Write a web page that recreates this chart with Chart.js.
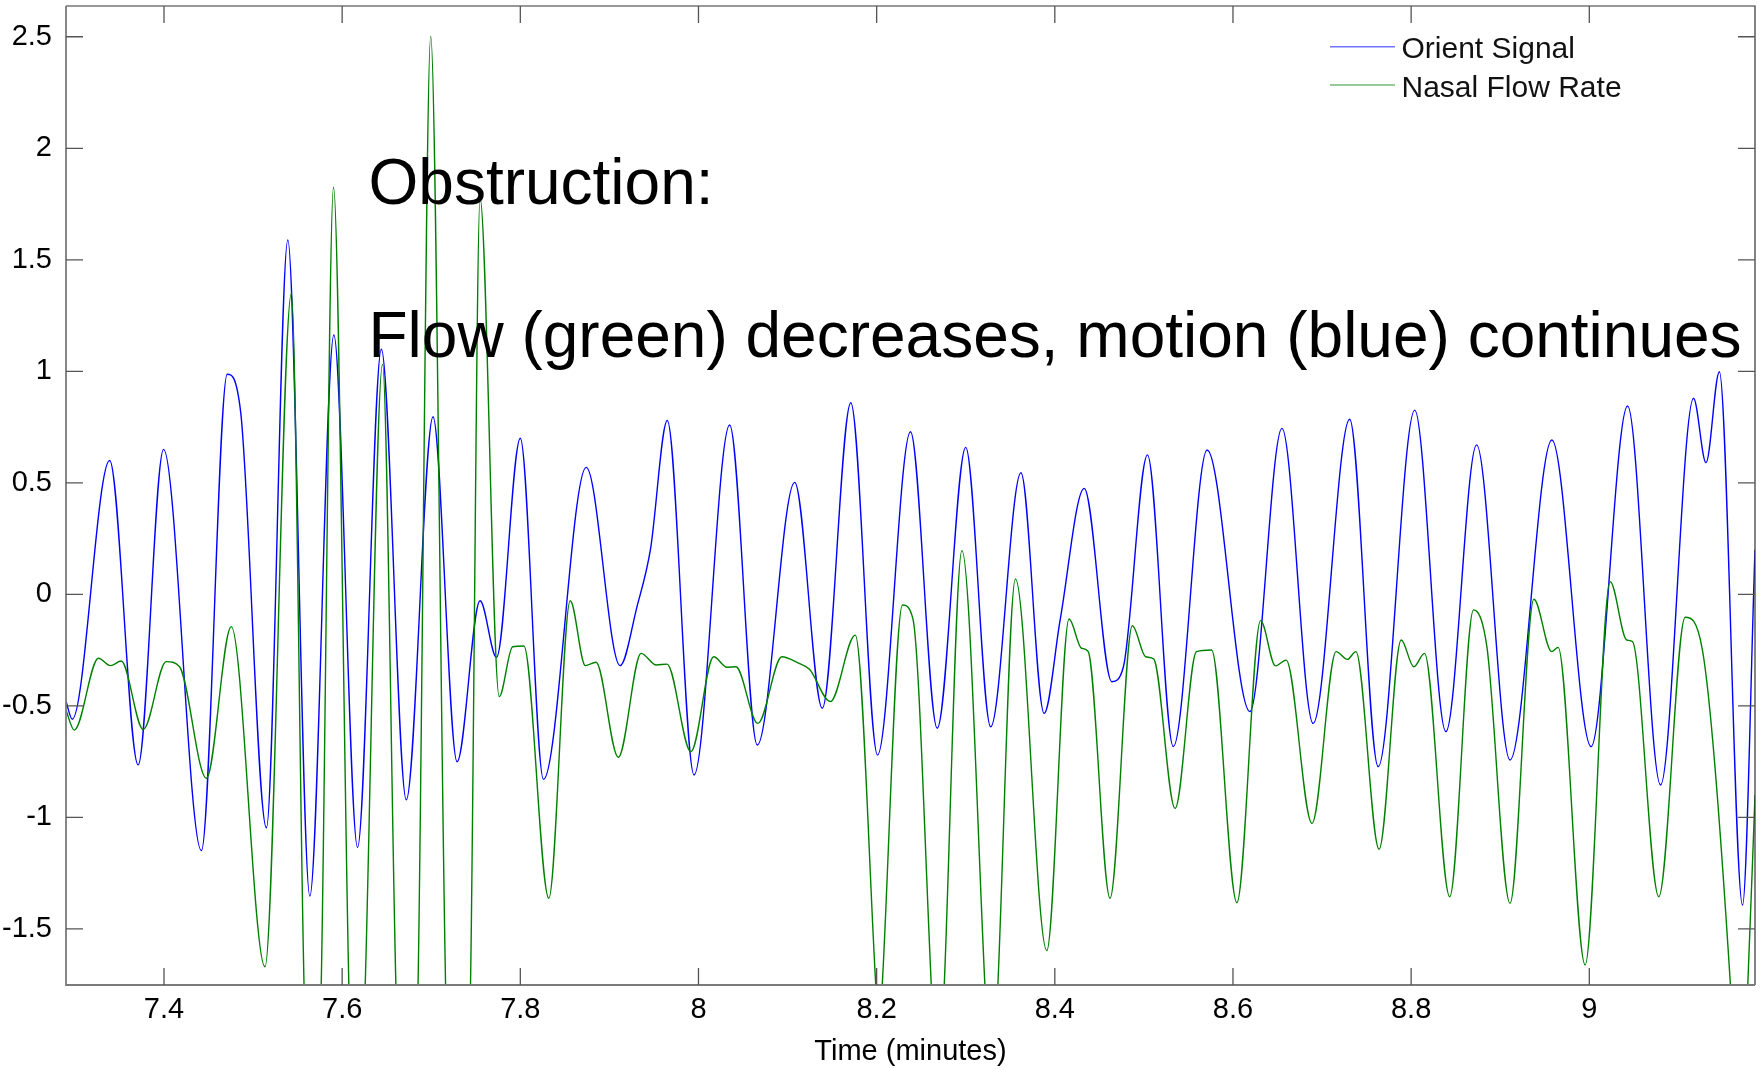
<!DOCTYPE html>
<html>
<head>
<meta charset="utf-8">
<script src="https://cdn.jsdelivr.net/npm/chart.js@4.4.0/dist/chart.umd.min.js"></script>
<style>
  html, body { margin: 0; padding: 0; background: #fff; }
</style>
</head>
<body>
<canvas id="flowChart" width="1763" height="1069"></canvas>
<script>
// values (time in minutes)
var orientTime = [7.290, 7.297, 7.339, 7.371, 7.3995, 7.442, 7.471, 7.486, 7.515, 7.539, 7.5637, 7.5907,
  7.6173, 7.644, 7.672, 7.702, 7.729, 7.7548, 7.7733, 7.800, 7.826, 7.874, 7.912, 7.931, 7.946, 7.965,
  7.995, 8.035, 8.066, 8.108, 8.139, 8.171, 8.201, 8.238, 8.268, 8.300, 8.328, 8.362, 8.388, 8.406,
  8.433, 8.464, 8.477, 8.504, 8.533, 8.571, 8.619, 8.655, 8.690, 8.731, 8.763, 8.804, 8.839, 8.8735,
  8.911, 8.958, 9.002, 9.043, 9.080, 9.117, 9.131, 9.146, 9.172, 9.186];
var orientValue = [-0.48, -0.56, 0.60, -0.765, 0.65, -1.15, 0.987, 0.82, -1.047, 1.589, -1.353, 1.163,
  -1.135, 1.099, -0.922, 0.796, -0.751, -0.029, -0.283, 0.70, -0.83, 0.569, -0.32, -0.055, 0.199, 0.779,
  -0.81, 0.759, -0.676, 0.502, -0.511, 0.859, -0.721, 0.729, -0.601, 0.659, -0.594, 0.545, -0.534, -0.115,
  0.475, -0.392, -0.325, 0.625, -0.683, 0.647, -0.526, 0.744, -0.579, 0.785, -0.773, 0.826, -0.616, 0.670,
  -0.743, 0.692, -0.683, 0.844, -0.855, 0.879, 0.590, 0.998, -1.393, 0.2];

var flowTime = [7.290, 7.2993, 7.3264, 7.340, 7.352, 7.3767, 7.4025, 7.4175, 7.4476, 7.4755, 7.5134,
  7.543, 7.5572, 7.567, 7.5765, 7.5903, 7.6075, 7.6163, 7.6259, 7.6453, 7.6603, 7.673, 7.6852, 7.6994,
  7.7161, 7.730, 7.7441, 7.7548, 7.7763, 7.7914, 7.804, 7.832, 7.856, 7.873, 7.885, 7.910, 7.9356,
  7.9527, 7.9647, 7.9915, 8.017, 8.032, 8.042, 8.0666, 8.0936, 8.113, 8.1246, 8.148, 8.176, 8.199,
  8.2026, 8.2063, 8.229, 8.2406, 8.2613, 8.2686, 8.2759, 8.2957, 8.3215, 8.3288, 8.3361, 8.3558, 8.391,
  8.416, 8.430, 8.4375, 8.462, 8.487, 8.502, 8.511, 8.535, 8.559, 8.576, 8.6044, 8.631, 8.6477, 8.6597,
  8.6887, 8.7158, 8.7284, 8.738, 8.764, 8.7888, 8.803, 8.815, 8.8433, 8.870, 8.885, 8.911, 8.9378,
  8.9577, 8.965, 8.9953, 9.0234, 9.042, 9.0484, 9.078, 9.1076, 9.127, 9.1584, 9.168, 9.1779, 9.186];
var flowValue = [-0.52, -0.609, -0.287, -0.320, -0.299, -0.606, -0.302, -0.325, -0.825, -0.145, -1.670,
  1.350, -1.75, -3.0, -1.75, 1.825, -1.75, -3.0, -1.75, 1.031, -1.75, -3.5, -1.75, 2.503,
  -1.75, -3.8, -1.75, 1.776, -0.459, -0.235, -0.232, -1.363, -0.029, -0.32, -0.305, -0.731, -0.265,
  -0.317, -0.313, -0.706, -0.280, -0.327, -0.325, -0.579, -0.280, -0.31, -0.336, -0.481, -0.183, -1.75,
  -2.0, -1.75, -0.048, -0.108, -1.75, -2.4, -1.75, 0.196, -1.75, -2.4, -1.75, 0.069, -1.598,
  -0.111, -0.242, -0.257, -1.363, -0.141, -0.280, -0.290, -0.960, -0.257, -0.250, -1.383, -0.118, -0.321, -0.295,
  -1.027, -0.257, -0.292, -0.257, -1.143, -0.205, -0.325, -0.265, -1.356, -0.070, -0.235, -1.386, -0.022,
  -0.257, -0.238, -1.662, 0.057, -0.205, -0.212, -1.356, -0.103, -0.25, -1.75, -2.5, -1.75, -0.9];

var timeTicks = [7.4, 7.6, 7.8, 8, 8.2, 8.4, 8.6, 8.8, 9];
var valueTicks = [-1.5, -1, -0.5, 0, 0.5, 1, 1.5, 2, 2.5];
var seriesNames = ["Orient Signal", "Nasal Flow Rate"];
var seriesColors = ["rgb(0,0,255)", "rgb(0,128,0)"];
var noteLines = ["Obstruction:", "Flow (green) decreases, motion (blue) continues"];

var fontFamily = "'Liberation Sans', Arial, Helvetica, sans-serif";

function toPoints(xs, ys) {
  return xs.map(function (x, i) { return { x: x, y: ys[i] }; });
}

// MATLAB style box with inward ticks on all four sides
var boxAxes = {
  id: "boxAxes",
  afterDatasetsDraw: function (chart) {
    var ctx = chart.ctx;
    var a = chart.chartArea;
    var xs = chart.scales.x;
    var ys = chart.scales.y;
    var len = 17;
    ctx.save();
    // top and right edges: thin and dark
    ctx.strokeStyle = "#333";
    ctx.lineWidth = 1.2;
    ctx.beginPath();
    ctx.moveTo(a.left, a.top); ctx.lineTo(a.right, a.top); ctx.lineTo(a.right, a.bottom);
    ctx.stroke();
    // left and bottom edges: grey
    ctx.strokeStyle = "#7a7a7a";
    ctx.lineWidth = 1.8;
    ctx.beginPath();
    ctx.moveTo(a.left, a.top); ctx.lineTo(a.left, a.bottom); ctx.lineTo(a.right, a.bottom);
    ctx.stroke();

    ctx.lineWidth = 1.3;
    ctx.strokeStyle = "#555";
    ctx.beginPath();
    timeTicks.forEach(function (t) {
      var px = xs.getPixelForValue(t);
      ctx.moveTo(px, a.bottom); ctx.lineTo(px, a.bottom - len);
      ctx.moveTo(px, a.top); ctx.lineTo(px, a.top + len);
    });
    valueTicks.forEach(function (v) {
      var py = ys.getPixelForValue(v);
      ctx.moveTo(a.left, py); ctx.lineTo(a.left + len, py);
      ctx.moveTo(a.right, py); ctx.lineTo(a.right - len, py);
    });
    ctx.stroke();
    ctx.restore();
  }
};

// legend and the annotation text
var notes = {
  id: "notes",
  afterDraw: function (chart) {
    var ctx = chart.ctx;
    ctx.save();
    ctx.textAlign = "left";
    ctx.textBaseline = "alphabetic";

    ctx.font = "30px " + fontFamily;
    for (var i = 0; i < seriesNames.length; i++) {
      var ly = 46.7 + i * 38.3;
      ctx.strokeStyle = seriesColors[i];
      ctx.globalAlpha = 0.55;
      ctx.lineWidth = 1.4;
      ctx.beginPath();
      ctx.moveTo(1330, ly);
      ctx.lineTo(1395, ly);
      ctx.stroke();
      ctx.globalAlpha = 1;
      ctx.fillStyle = "#111";
      ctx.fillText(seriesNames[i], 1401.5, ly + 11.5);
    }

    ctx.font = "64px " + fontFamily;
    ctx.fillStyle = "#000";
    ctx.fillText(noteLines[0], 368.5, 204);
    ctx.fillText(noteLines[1], 368.5, 357);
    ctx.restore();
  }
};

var ctx = document.getElementById("flowChart").getContext("2d");

new Chart(ctx, {
  type: "line",
  data: {
    datasets: [
      {
        label: seriesNames[1],
        data: toPoints(flowTime, flowValue),
        borderColor: seriesColors[1],
        borderWidth: 1.4,
        pointRadius: 0,
        fill: false,
        cubicInterpolationMode: "monotone",
        order: 0
      },
      {
        label: seriesNames[0],
        data: toPoints(orientTime, orientValue),
        borderColor: seriesColors[0],
        borderWidth: 1.4,
        pointRadius: 0,
        fill: false,
        cubicInterpolationMode: "monotone",
        order: 1
      }
    ]
  },
  options: {
    responsive: false,
    animation: false,
    layout: { padding: { left: 0, right: 8, top: 6, bottom: 0 } },
    plugins: {
      legend: { display: false },
      tooltip: { enabled: false }
    },
    scales: {
      x: {
        type: "linear",
        min: 7.29,
        max: 9.186,
        grid: { display: false },
        border: { display: false },
        afterBuildTicks: function (axis) {
          axis.ticks = timeTicks.map(function (v) { return { value: v }; });
        },
        afterFit: function (scale) {
          scale.height = 84;
          scale.paddingLeft = 0;
          scale.paddingRight = 0;
        },
        ticks: {
          autoSkip: false,
          maxRotation: 0,
          padding: 0,
          color: "#000",
          font: { family: fontFamily, size: 29 },
          callback: function (value) { return String(value); }
        },
        title: {
          display: true,
          text: "Time (minutes)",
          color: "#000",
          font: { family: fontFamily, size: 29 },
          padding: { top: 0, bottom: 0 }
        }
      },
      y: {
        type: "linear",
        min: -1.752,
        max: 2.638,
        grid: { display: false },
        border: { display: false },
        afterBuildTicks: function (axis) {
          axis.ticks = valueTicks.map(function (v) { return { value: v }; });
        },
        afterFit: function (scale) {
          scale.width = 66;
          scale.paddingTop = 0;
          scale.paddingBottom = 0;
        },
        ticks: {
          padding: 6,
          color: "#000",
          font: { family: fontFamily, size: 29 },
          callback: function (value) { return String(value); }
        }
      }
    }
  },
  plugins: [boxAxes, notes]
});
</script>
</body>
</html>
